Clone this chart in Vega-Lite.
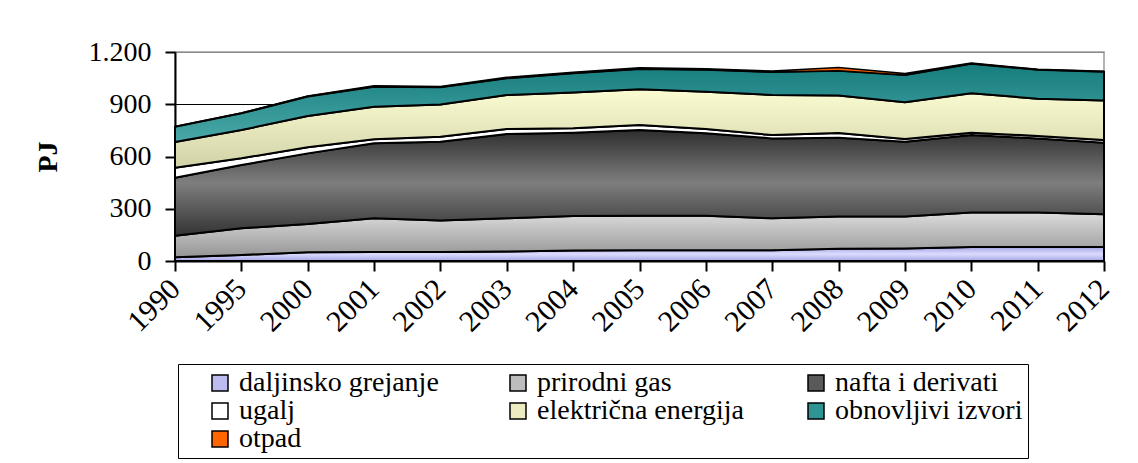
{
  "$schema": "https://vega.github.io/schema/vega-lite/v6.json",
  "autosize": {"type": "none"},
  "padding": {"left": 175, "top": 52, "right": 34, "bottom": 202},
  "width": 929,
  "height": 209,
  "background": "white",
  "config": {
    "view": {"stroke": "#9a9a9a", "strokeWidth": 1.5},
    "font": "Liberation Serif"
  },
  "data": {"values": [
    {"g":"1990","s":"daljinsko grejanje","v":22,"k":1},{"g":"1990","s":"prirodni gas","v":123,"k":2},{"g":"1990","s":"nafta i derivati","v":333,"k":3},{"g":"1990","s":"ugalj","v":58,"k":4},{"g":"1990","s":"električna energija","v":147,"k":5},{"g":"1990","s":"obnovljivi izvori","v":88,"k":6},{"g":"1990","s":"otpad","v":1,"k":7},
    {"g":"1995","s":"daljinsko grejanje","v":35,"k":1},{"g":"1995","s":"prirodni gas","v":153,"k":2},{"g":"1995","s":"nafta i derivati","v":363,"k":3},{"g":"1995","s":"ugalj","v":39,"k":4},{"g":"1995","s":"električna energija","v":162,"k":5},{"g":"1995","s":"obnovljivi izvori","v":96,"k":6},{"g":"1995","s":"otpad","v":2,"k":7},
    {"g":"2000","s":"daljinsko grejanje","v":50,"k":1},{"g":"2000","s":"prirodni gas","v":162,"k":2},{"g":"2000","s":"nafta i derivati","v":406,"k":3},{"g":"2000","s":"ugalj","v":35,"k":4},{"g":"2000","s":"električna energija","v":180,"k":5},{"g":"2000","s":"obnovljivi izvori","v":111,"k":6},{"g":"2000","s":"otpad","v":3,"k":7},
    {"g":"2001","s":"daljinsko grejanje","v":52,"k":1},{"g":"2001","s":"prirodni gas","v":193,"k":2},{"g":"2001","s":"nafta i derivati","v":431,"k":3},{"g":"2001","s":"ugalj","v":23,"k":4},{"g":"2001","s":"električna energija","v":187,"k":5},{"g":"2001","s":"obnovljivi izvori","v":115,"k":6},{"g":"2001","s":"otpad","v":5,"k":7},
    {"g":"2002","s":"daljinsko grejanje","v":52,"k":1},{"g":"2002","s":"prirodni gas","v":180,"k":2},{"g":"2002","s":"nafta i derivati","v":453,"k":3},{"g":"2002","s":"ugalj","v":29,"k":4},{"g":"2002","s":"električna energija","v":184,"k":5},{"g":"2002","s":"obnovljivi izvori","v":99,"k":6},{"g":"2002","s":"otpad","v":5,"k":7},
    {"g":"2003","s":"daljinsko grejanje","v":55,"k":1},{"g":"2003","s":"prirodni gas","v":190,"k":2},{"g":"2003","s":"nafta i derivati","v":484,"k":3},{"g":"2003","s":"ugalj","v":29,"k":4},{"g":"2003","s":"električna energija","v":195,"k":5},{"g":"2003","s":"obnovljivi izvori","v":96,"k":6},{"g":"2003","s":"otpad","v":6,"k":7},
    {"g":"2004","s":"daljinsko grejanje","v":60,"k":1},{"g":"2004","s":"prirodni gas","v":198,"k":2},{"g":"2004","s":"nafta i derivati","v":479,"k":3},{"g":"2004","s":"ugalj","v":25,"k":4},{"g":"2004","s":"električna energija","v":205,"k":5},{"g":"2004","s":"obnovljivi izvori","v":111,"k":6},{"g":"2004","s":"otpad","v":6,"k":7},
    {"g":"2005","s":"daljinsko grejanje","v":62,"k":1},{"g":"2005","s":"prirodni gas","v":198,"k":2},{"g":"2005","s":"nafta i derivati","v":492,"k":3},{"g":"2005","s":"ugalj","v":29,"k":4},{"g":"2005","s":"električna energija","v":205,"k":5},{"g":"2005","s":"obnovljivi izvori","v":117,"k":6},{"g":"2005","s":"otpad","v":6,"k":7},
    {"g":"2006","s":"daljinsko grejanje","v":62,"k":1},{"g":"2006","s":"prirodni gas","v":198,"k":2},{"g":"2006","s":"nafta i derivati","v":473,"k":3},{"g":"2006","s":"ugalj","v":25,"k":4},{"g":"2006","s":"električna energija","v":214,"k":5},{"g":"2006","s":"obnovljivi izvori","v":126,"k":6},{"g":"2006","s":"otpad","v":6,"k":7},
    {"g":"2007","s":"daljinsko grejanje","v":62,"k":1},{"g":"2007","s":"prirodni gas","v":183,"k":2},{"g":"2007","s":"nafta i derivati","v":459,"k":3},{"g":"2007","s":"ugalj","v":19,"k":4},{"g":"2007","s":"električna energija","v":230,"k":5},{"g":"2007","s":"obnovljivi izvori","v":132,"k":6},{"g":"2007","s":"otpad","v":6,"k":7},
    {"g":"2008","s":"daljinsko grejanje","v":70,"k":1},{"g":"2008","s":"prirodni gas","v":185,"k":2},{"g":"2008","s":"nafta i derivati","v":453,"k":3},{"g":"2008","s":"ugalj","v":27,"k":4},{"g":"2008","s":"električna energija","v":215,"k":5},{"g":"2008","s":"obnovljivi izvori","v":143,"k":6},{"g":"2008","s":"otpad","v":18,"k":7},
    {"g":"2009","s":"daljinsko grejanje","v":72,"k":1},{"g":"2009","s":"prirodni gas","v":183,"k":2},{"g":"2009","s":"nafta i derivati","v":430,"k":3},{"g":"2009","s":"ugalj","v":15,"k":4},{"g":"2009","s":"električna energija","v":212,"k":5},{"g":"2009","s":"obnovljivi izvori","v":156,"k":6},{"g":"2009","s":"otpad","v":8,"k":7},
    {"g":"2010","s":"daljinsko grejanje","v":80,"k":1},{"g":"2010","s":"prirodni gas","v":198,"k":2},{"g":"2010","s":"nafta i derivati","v":445,"k":3},{"g":"2010","s":"ugalj","v":14,"k":4},{"g":"2010","s":"električna energija","v":226,"k":5},{"g":"2010","s":"obnovljivi izvori","v":169,"k":6},{"g":"2010","s":"otpad","v":5,"k":7},
    {"g":"2011","s":"daljinsko grejanje","v":80,"k":1},{"g":"2011","s":"prirodni gas","v":198,"k":2},{"g":"2011","s":"nafta i derivati","v":426,"k":3},{"g":"2011","s":"ugalj","v":14,"k":4},{"g":"2011","s":"električna energija","v":214,"k":5},{"g":"2011","s":"obnovljivi izvori","v":166,"k":6},{"g":"2011","s":"otpad","v":3,"k":7},
    {"g":"2012","s":"daljinsko grejanje","v":80,"k":1},{"g":"2012","s":"prirodni gas","v":188,"k":2},{"g":"2012","s":"nafta i derivati","v":411,"k":3},{"g":"2012","s":"ugalj","v":16,"k":4},{"g":"2012","s":"električna energija","v":227,"k":5},{"g":"2012","s":"obnovljivi izvori","v":165,"k":6},{"g":"2012","s":"otpad","v":3,"k":7}
  ]},
  "transform": [
    {"stack": "v", "groupby": ["g"], "sort": [{"field": "k", "order": "ascending"}], "as": ["y0", "y1"]}
  ],
  "encoding": {
    "x": {
      "field": "g", "type": "ordinal", "sort": null,
      "scale": {"type": "point", "padding": 0},
      "axis": {
        "title": null, "labelAngle": -45, "labelAlign": "right", "labelBaseline": "middle",
        "labelFont": "Liberation Serif", "labelFontSize": 30, "labelColor": "black",
        "labelPadding": 13, "tickSize": 10, "tickColor": "black", "tickWidth": 2,
        "domainColor": "black", "domainWidth": 2, "grid": false
      }
    },
    "y": {
      "field": "y1", "type": "quantitative",
      "scale": {"domain": [0, 1200], "nice": false},
      "axis": {
        "title": "PJ", "titleFont": "Liberation Serif", "titleFontSize": 28, "titleFontWeight": "bold",
        "titleColor": "black", "titlePadding": 26,
        "values": [0, 300, 600, 900, 1200],
        "labelExpr": "replace(format(datum.value, ','), ',', '.')",
        "labelFont": "Liberation Serif", "labelFontSize": 28, "labelColor": "black", "labelPadding": 14,
        "tickSize": 10, "tickColor": "black", "tickWidth": 2,
        "domainColor": "black", "domainWidth": 2,
        "grid": true, "gridWidth": 1,
        "gridColor": {"condition": {"test": "datum.value === 1200", "value": "#8a8a8a"}, "value": "black"}
      }
    },
    "y2": {"field": "y0"}
  },
  "layer": [
    {
      "transform": [{"filter": "datum.s === 'daljinsko grejanje'"}],
      "mark": {"type": "area", "stroke": "black", "strokeWidth": 2, "strokeJoin": "round",
        "fill": {"gradient": "linear", "x1": 0, "y1": 0, "x2": 0, "y2": 1, "stops": [{"offset": 0, "color": "#a4a4e4"}, {"offset": 0.5, "color": "#dcdcff"}, {"offset": 1, "color": "#a4a4e4"}]}}
    },
    {
      "transform": [{"filter": "datum.s === 'prirodni gas'"}],
      "mark": {"type": "area", "stroke": "black", "strokeWidth": 2, "strokeJoin": "round",
        "fill": {"gradient": "linear", "x1": 0, "y1": 0, "x2": 0, "y2": 1, "stops": [{"offset": 0, "color": "#dcdcdc"}, {"offset": 1, "color": "#959595"}]}}
    },
    {
      "transform": [{"filter": "datum.s === 'nafta i derivati'"}],
      "mark": {"type": "area", "stroke": "black", "strokeWidth": 2, "strokeJoin": "round",
        "fill": {"gradient": "linear", "x1": 0, "y1": 0, "x2": 0, "y2": 1, "stops": [{"offset": 0, "color": "#2e2e2e"}, {"offset": 0.5, "color": "#7e7e7e"}, {"offset": 1, "color": "#333333"}]}}
    },
    {
      "transform": [{"filter": "datum.s === 'ugalj'"}],
      "mark": {"type": "area", "stroke": "black", "strokeWidth": 2, "strokeJoin": "round", "fill": "#ffffff"}
    },
    {
      "transform": [{"filter": "datum.s === 'električna energija'"}],
      "mark": {"type": "area", "stroke": "black", "strokeWidth": 2, "strokeJoin": "round",
        "fill": {"gradient": "linear", "x1": 0, "y1": 0, "x2": 0, "y2": 1, "stops": [{"offset": 0, "color": "#fcfcd2"}, {"offset": 1, "color": "#d2d2a8"}]}}
    },
    {
      "transform": [{"filter": "datum.s === 'obnovljivi izvori'"}],
      "mark": {"type": "area", "stroke": "black", "strokeWidth": 2, "strokeJoin": "round",
        "fill": {"gradient": "linear", "x1": 0, "y1": 0, "x2": 0, "y2": 1, "stops": [{"offset": 0, "color": "#167c7c"}, {"offset": 1, "color": "#4aa8a8"}]}}
    },
    {
      "transform": [{"filter": "datum.s === 'otpad'"}],
      "mark": {"type": "area", "stroke": "black", "strokeWidth": 1.5, "strokeJoin": "round", "fill": "#ff6600"}
    },
    {
      "mark": {"type": "point", "shape": "square", "filled": true, "opacity": 0},
      "encoding": {
        "y2": null,
        "color": {
          "field": "s", "type": "nominal",
          "scale": {
            "domain": ["daljinsko grejanje", "prirodni gas", "nafta i derivati", "ugalj", "električna energija", "obnovljivi izvori", "otpad"],
            "range": ["#bcbcf0", "#bdbdbd", "#5a5a5a", "#ffffff", "#ececc0", "#2f9494", "#ff6600"]
          },
          "legend": {
            "title": null, "orient": "none", "legendX": 3, "legendY": 312, "direction": "horizontal",
            "columns": 3, "gridAlign": "all", "columnPadding": 34, "rowPadding": 0,
            "symbolType": "square", "symbolSize": 256, "symbolStrokeColor": "black", "symbolStrokeWidth": 1.5,
            "symbolOpacity": 1, "symbolOffset": 23, "labelOffset": 5, "labelLimit": 0,
            "labelFont": "Liberation Serif", "labelFontSize": 28, "labelColor": "black",
            "strokeColor": "black", "padding": 5, "fillColor": "white",
            "encode": {"symbols": {"update": {"opacity": {"value": 1}, "fillOpacity": {"value": 1}, "strokeOpacity": {"value": 1}}}}
          }
        }
      }
    }
  ]
}
